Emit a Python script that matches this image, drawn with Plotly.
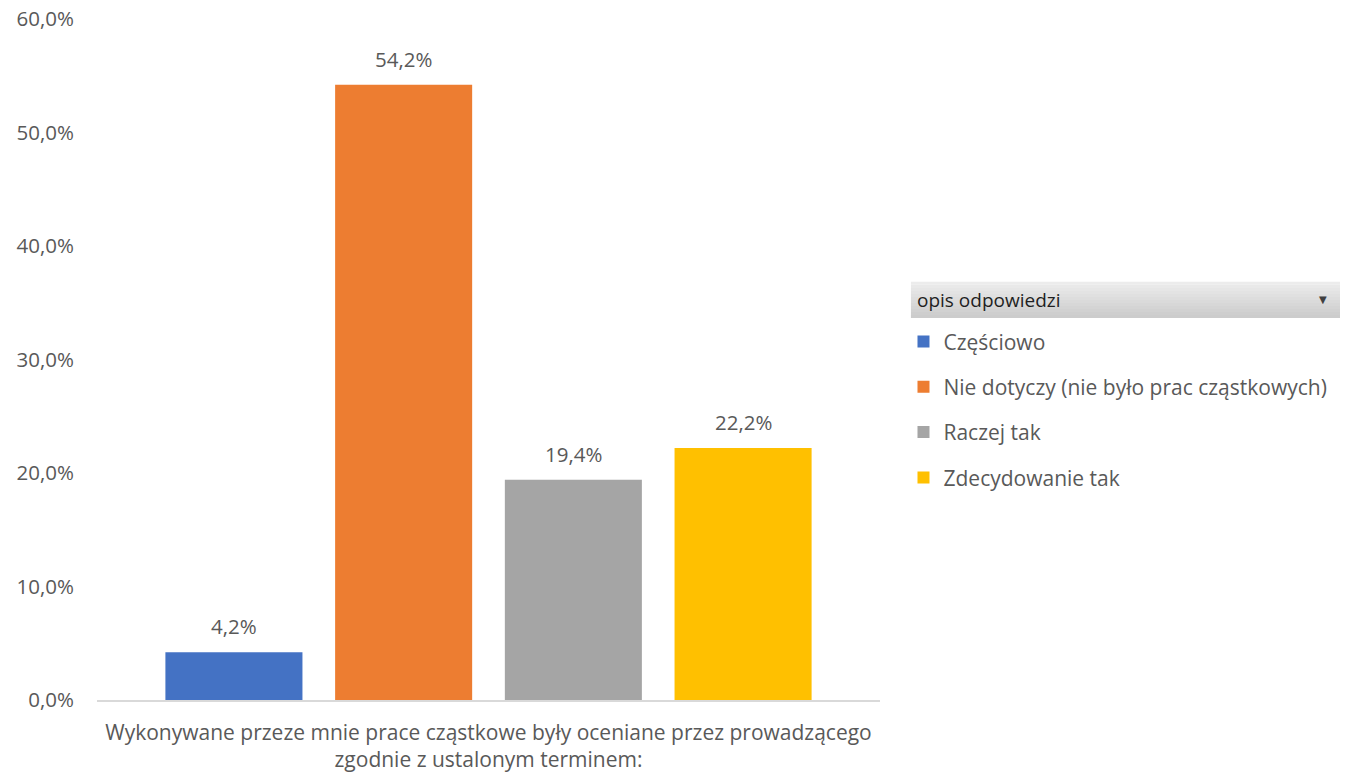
import plotly.graph_objects as go

category = ["Wykonywane przeze mnie prace cząstkowe były oceniane przez prowadzącego<br>zgodnie z ustalonym terminem:"]
series_names = ["Częściowo", "Nie dotyczy (nie było prac cząstkowych)", "Raczej tak", "Zdecydowanie tak"]
series_values = [[0.042], [0.542], [0.194], [0.222]]
colors = ["#4472C4", "#ED7D31", "#A5A5A5", "#FFC000"]
tick_vals = [0, 0.1, 0.2, 0.3, 0.4, 0.5, 0.6]

FONT = "Open Sans"
TXT = "#595959"

W, H = 1355, 773
L, T, PW, PH = 97, 19, 783, 681
BARGAP, BARGROUPGAP = 0.133, 0.1925
slot = PW * (1 - BARGAP) / len(series_names)

fig = go.Figure()
annotations = []
for i, (name, vals) in enumerate(zip(series_names, series_values)):
    fig.add_trace(go.Bar(
        x=category, y=vals, name=name,
        marker=dict(color=colors[i], line=dict(width=0)),
        legendgroup=f"g{i}",
    ))
    for xv, yv in zip(category, vals):
        annotations.append(dict(
            x=xv, y=yv, xref="x", yref="y",
            text=f"{yv * 100:.1f}%".replace(".", ","),
            showarrow=False, xanchor="center", yanchor="middle",
            xshift=(i - (len(series_names) - 1) / 2) * slot, yshift=26,
            font=dict(family=FONT, size=20.5, color=TXT),
        ))

# legend title bar with a vertical grey gradient
shapes = []
y_bot, y_top = 0.561, 0.614
n_strips = 12
for k in range(n_strips):
    c = int(0xEC - (0xEC - 0xCC) * k / (n_strips - 1))
    shapes.append(dict(
        type="rect", xref="paper", yref="paper",
        x0=1.0395, x1=1.5875,
        y0=y_top - (y_top - y_bot) * (k + 1) / n_strips,
        y1=y_top - (y_top - y_bot) * k / n_strips,
        fillcolor=f"rgb({c},{c},{c})", line=dict(width=0), layer="below",
    ))

annotations += [
    dict(text="opis odpowiedzi", xref="paper", yref="paper", x=1.045, y=(y_bot + y_top) / 2,
         xanchor="left", yanchor="middle", showarrow=False,
         font=dict(family=FONT, size=19, color="#1F1F1F")),
    dict(text="▼", xref="paper", yref="paper", x=1.566, y=(y_bot + y_top) / 2,
         xanchor="center", yanchor="middle", showarrow=False,
         font=dict(family="DejaVu Sans", size=10, color="#404040")),
]

fig.update_layout(
    width=W, height=H,
    margin=dict(l=L, r=W - L - PW, t=T, b=H - T - PH, autoexpand=False),
    paper_bgcolor="white", plot_bgcolor="white",
    separators=", ",
    barmode="group", bargap=BARGAP, bargroupgap=BARGROUPGAP,
    font=dict(family=FONT, size=21, color=TXT),
    showlegend=True,
    legend=dict(
        x=1.030, y=0.556, xanchor="left", yanchor="top",
        font=dict(family=FONT, size=21, color=TXT),
        traceorder="grouped", tracegroupgap=15,
        bgcolor="rgba(0,0,0,0)",
    ),
    xaxis=dict(showline=True, linecolor="#D9D9D9", linewidth=1.5, ticks="",
               ticklabelstandoff=13,
               tickfont=dict(family=FONT, size=21, color=TXT)),
    yaxis=dict(range=[0, 0.6], tickvals=tick_vals, tickformat=".1%",
               showgrid=False, zeroline=False, showline=False, ticks="",
               ticklabelstandoff=22, ticklabeloverflow="allow",
               tickfont=dict(family=FONT, size=20.5, color=TXT)),
    shapes=shapes,
    annotations=annotations,
)

fig.write_html("out.html", config={"displayModeBar": False},
               post_script="document.body.style.margin='0';document.body.style.overflow='hidden';")
